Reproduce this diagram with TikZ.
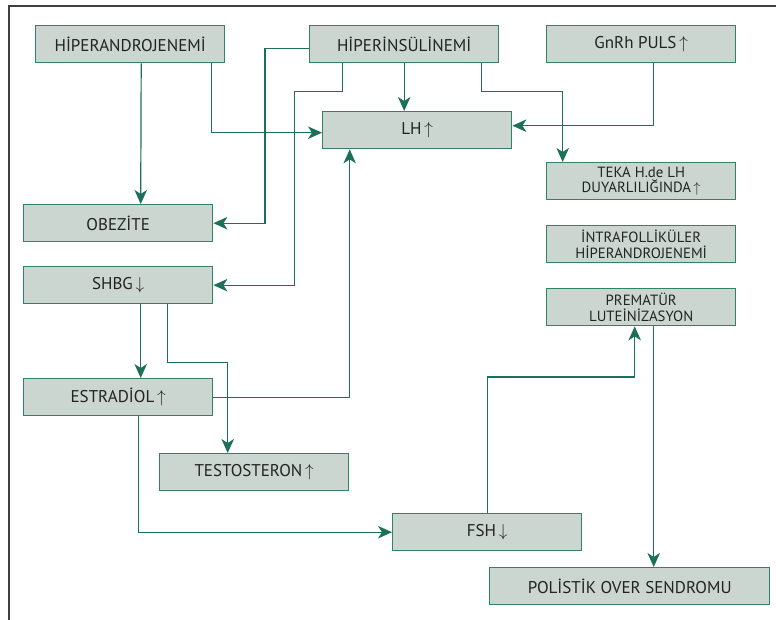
\documentclass[tikz,border=0pt]{standalone}
\usepackage{fontspec}
\setmainfont{PT Sans}
\usepackage{tikz}
\usetikzlibrary{arrows.meta}
\definecolor{boxfill}{RGB}{203,214,208}
\definecolor{boxline}{RGB}{50,130,105}
\definecolor{linkcol}{RGB}{28,112,90}
\definecolor{txtcol}{RGB}{35,35,35}
\tikzset{
  box/.style={draw=boxline, fill=boxfill, line width=1.4pt, minimum width=189pt, minimum height=37pt, inner sep=0pt, anchor=north west, text=txtcol, font=\fontsize{17}{19}\selectfont, align=center},
  smallbox/.style={box, font=\fontsize{14.8}{15.5}\selectfont},
  arr/.style={draw=linkcol, line width=1.2pt, -{Stealth[length=14pt,width=12.5pt,inset=4pt]}}
}
\newcommand{\up}{\,$\big\uparrow$}
\newcommand{\down}{\,$\big\downarrow$}
\begin{document}
\begin{tikzpicture}[x=1pt,y=-1pt]
\useasboundingbox (0,0) rectangle (776,620);
\draw[line width=1.3pt, color=black!75] (9,620) -- (9,6) -- (776,6);
%Boxes
\node[box] (hipand) at (35,25) {H\.IPERANDROJENEM\.I};
\node[box] (hipins) at (309,25) {H\.IPER\.INS\"UL\.INEM\.I};
\node[box] (gnrh) at (546,25) {GnRh PULS\up};
\node[box] (lh) at (322,111) {LH\up};
\node[smallbox] (teka) at (546,162) {TEKA H.de LH\\DUYARLILI\u{G}INDA\up};
\node[smallbox] (intra) at (546,225) {\.INTRAFOLL\.IK\"ULER\\H\.IPERANDROJENEM\.I};
\node[smallbox] (premat) at (546,288) {PREMAT\"UR\\LUTE\.IN\.IZASYON};
\node[box] (obez) at (23,204) {OBEZ\.ITE};
\node[box] (shbg) at (23,266) {SHBG\down};
\node[box] (estra) at (23,378) {ESTRAD\.IOL\up};
\node[box] (testo) at (159,453) {TESTOSTERON\up};
\node[box] (fsh) at (392,513) {FSH\down};
\node[box, minimum width=280pt] (pcos) at (489,567) {POL\.IST\.IK OVER SENDROMU};
%Links
\draw[arr] ([xshift=11pt]hipand.south) -- ([xshift=22.5pt]obez.north);
\draw[arr] ([xshift=81pt]hipand.south) |- ([yshift=-2.5pt]lh.west);
\draw[arr] ([yshift=-4pt]hipins.west) -- ++(-44,0) |- (obez.east);
\draw[arr] ([xshift=-61.5pt]hipins.south) -- ++(0,28) -- ++(-48,0) |- (shbg.east);
\draw[arr] (hipins.south) -- (hipins.south |- lh.north);
\draw[arr] ([xshift=77.5pt]hipins.south) -- ++(0,28) -| ([xshift=-78.5pt]teka.north);
\draw[arr] ([xshift=12.5pt]gnrh.south) |- ([yshift=4.5pt]lh.east);
\draw[arr] (estra.east) -| ([xshift=-67.5pt]lh.south);
\draw[arr] ([xshift=22.5pt]shbg.south) -- ([xshift=22.5pt]estra.north);
\draw[arr] ([xshift=49.5pt]shbg.south) -- ++(0,58) -| ([xshift=-26.5pt]testo.north);
\draw[arr] ([xshift=20.5pt]estra.south) |- (fsh.west);
\draw[arr] (fsh.north) -- ++(0,-136) -| ([xshift=-6.5pt]premat.south);
\draw[arr] ([xshift=12.5pt]premat.south) -- ([xshift=24pt]pcos.north);
\end{tikzpicture}
\end{document}
